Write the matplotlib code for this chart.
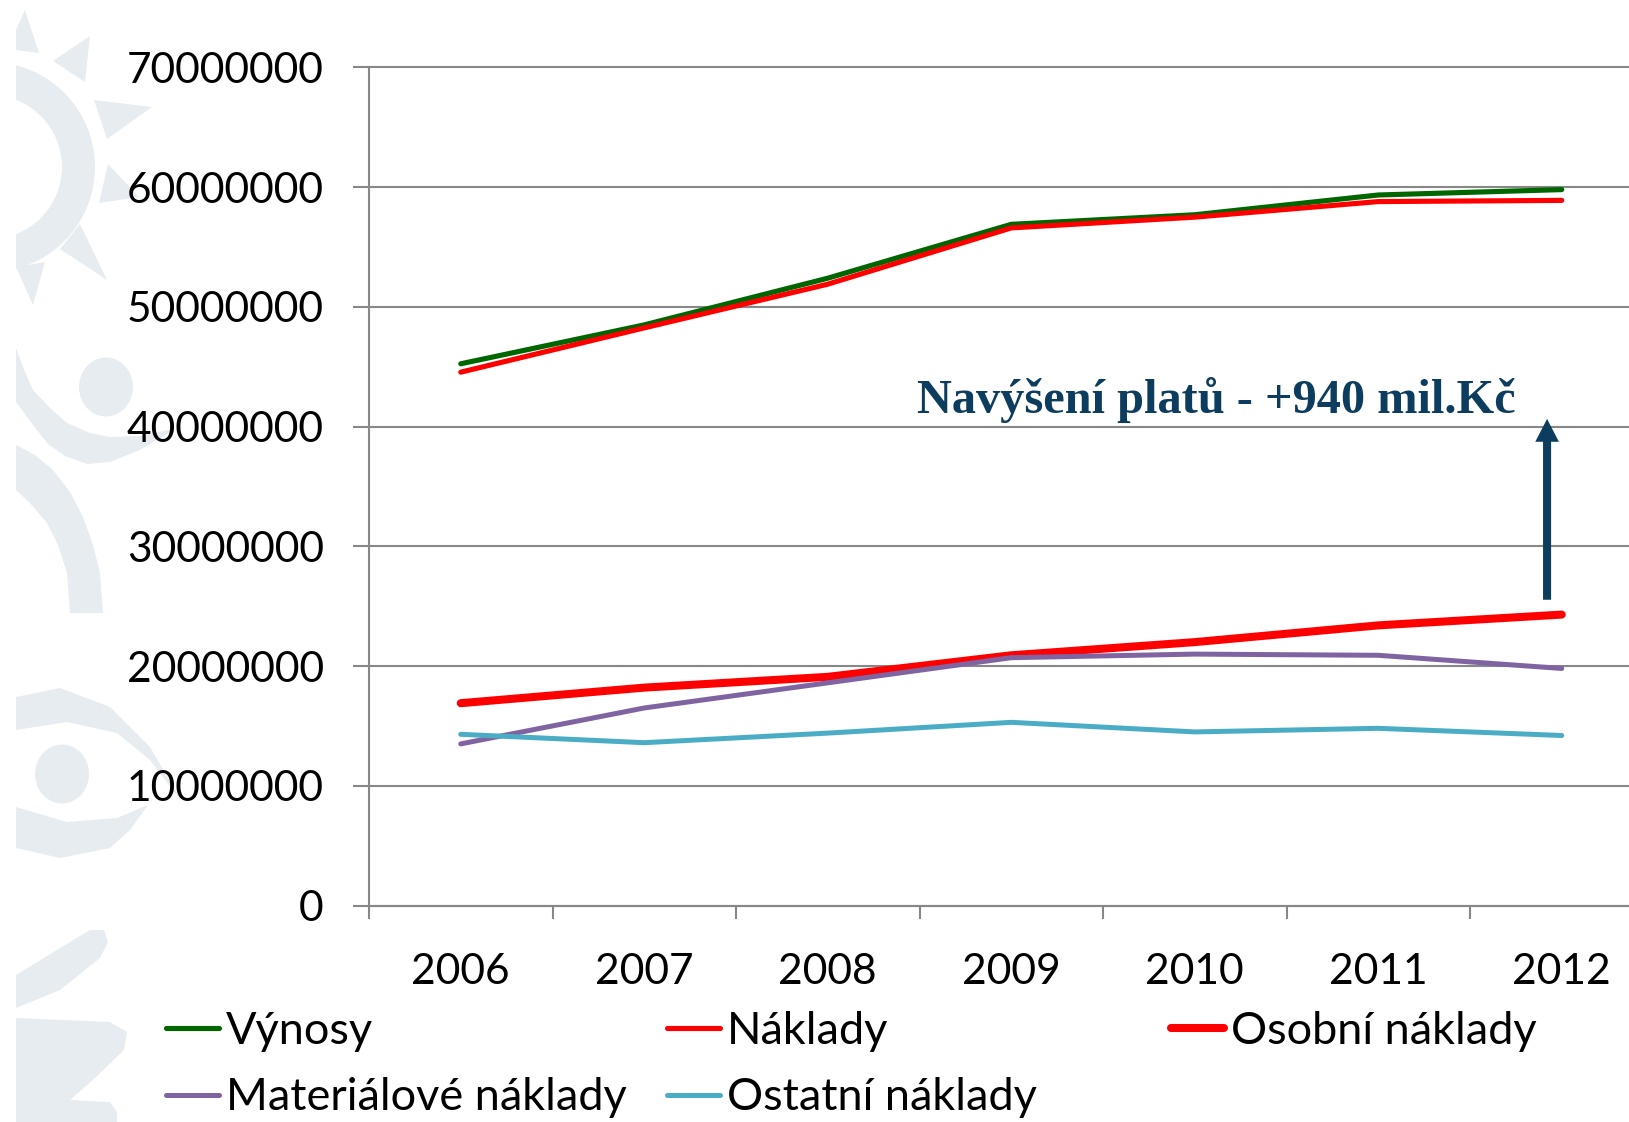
import matplotlib
matplotlib.use("Agg")
import matplotlib.pyplot as plt
from matplotlib.patches import Polygon, Wedge, Ellipse, Rectangle

# ---------------- data ----------------
years = ["2006", "2007", "2008", "2009", "2010", "2011", "2012"]
vynosy = [45250000, 48500000, 52400000, 56900000, 57700000, 59350000, 59800000]
naklady = [44550000, 48250000, 51900000, 56600000, 57500000, 58800000, 58900000]
osobni = [16900000, 18200000, 19100000, 20900000, 22000000, 23400000, 24300000]
material = [13500000, 16500000, 18600000, 20700000, 21000000, 20900000, 19800000]
ostatni = [14300000, 13600000, 14400000, 15300000, 14500000, 14800000, 14200000]
series_names = ["Výnosy", "Náklady", "Osobní náklady", "Materiálové náklady", "Ostatní náklady"]
y_ticks = [0, 10000000, 20000000, 30000000, 40000000, 50000000, 60000000, 70000000]
y_tick_labels = [str(v) for v in y_ticks]
annotation_text = "Navýšení platů - +940 mil.Kč"
arrow_from = 25540000
arrow_to = 40650000
arrow_x = 5.92
text_pos = (4.116, 41180000)

W, H = 1629, 1122
fig = plt.figure(figsize=(W / 100, H / 100), dpi=100)
fig.patch.set_facecolor("white")

# ---------------- background decoration ----------------
bg = fig.add_axes([0, 0, 1, 1], zorder=-10)
bg.set_xlim(0, W)
bg.set_ylim(H, 0)
bg.axis("off")
deco = "#E7ECF0"
clip = Rectangle((16, 0), W, H, transform=bg.transData, visible=False)
bg.add_patch(clip)
shapes = [
    Wedge((-10, 167), 105, -90, 90, width=33),
    Polygon([(25, 10), (39, 53), (16, 50), (16, 30)]),
    Polygon([(90, 36), (53, 61), (85, 82)]),
    Polygon([(152, 107), (94, 100), (107, 139)]),
    Polygon([(108, 164), (99, 203), (139, 197)]),
    Polygon([(80, 224), (60, 249), (107, 280)]),
    Polygon([(16, 267), (45, 262), (33, 305)]),
    Ellipse((106, 387), 54, 59),
    Polygon([(16, 348), (25, 372), (33, 390), (50, 408), (67, 423), (90, 433), (110, 437),
             (140, 436), (177, 428), (140, 450), (110, 462), (87, 464), (65, 456), (48, 444),
             (33, 425), (16, 402)]),
    Polygon([(16, 445), (35, 455), (53, 470), (70, 492), (83, 517), (93, 545), (100, 573),
             (103, 613), (70, 613), (67, 573), (58, 545), (47, 523), (30, 503), (16, 490)]),
    Polygon([(16, 697), (60, 688), (110, 707), (150, 747), (182, 802), (150, 760),
             (117, 733), (67, 722), (16, 730)]),
    Polygon([(16, 807), (67, 822), (117, 818), (148, 805), (130, 830), (110, 848),
             (60, 858), (16, 848)]),
    Ellipse((62, 774), 54, 59),
    Polygon([(16, 975), (70, 942), (90, 930), (104, 930), (108, 942), (100, 958),
             (60, 990), (16, 1008)]),
    Polygon([(16, 1018), (110, 1022), (127, 1032), (124, 1050), (95, 1078), (70, 1100),
             (110, 1102), (117, 1112), (117, 1122), (16, 1122)]),
]
for s in shapes:
    s.set_facecolor(deco)
    s.set_edgecolor("none")
    bg.add_patch(s)
    s.set_clip_path(clip)

# ---------------- main axes ----------------
left_px, right_px, top_px, bottom_px = 369, 1653.5, 67.5, 905.5
ax = fig.add_axes([left_px / W, 1 - bottom_px / H, (right_px - left_px) / W,
                   (bottom_px - top_px) / H])
ax.set_facecolor("none")

x = list(range(len(years)))
styles = [
    (vynosy, "#006600", 3.7),
    (naklady, "#FF0000", 3.7),
    (osobni, "#FF0000", 5.8),
    (material, "#8064A2", 3.6),
    (ostatni, "#4BACC6", 3.6),
]
handles = []
for (vals, col, lw), name in zip(styles, series_names):
    ln, = ax.plot(x, vals, color=col, lw=lw, solid_capstyle="round",
                  solid_joinstyle="round", label=name, zorder=3)
    handles.append(ln)

ax.set_xlim(-0.5, len(years) - 0.5)
ax.set_ylim(0, 70000000)

grid_col = "#878787"
ax.set_yticks(y_ticks)
ax.set_yticklabels(y_tick_labels)
ax.yaxis.grid(True, color=grid_col, lw=1.5, zorder=1)
for gl in ax.yaxis.get_gridlines():
    gl.set_clip_on(False)
ax.set_axisbelow(True)
for sp in ["top", "right"]:
    ax.spines[sp].set_visible(False)
for sp in ["left", "bottom"]:
    ax.spines[sp].set_color(grid_col)
    ax.spines[sp].set_linewidth(1.5)

ax.set_xticks(x)
ax.set_xticklabels(years)
ax.set_xticks([i - 0.5 for i in range(len(years) + 1)], minor=True)
ax.tick_params(axis="x", which="major", length=0, pad=34)
ax.tick_params(axis="x", which="minor", length=9.5, width=1.5, color=grid_col, direction="out")
ax.tick_params(axis="y", length=11.5, width=1.5, color=grid_col, pad=21)
for lab in ax.get_xticklabels() + ax.get_yticklabels():
    lab.set_fontfamily("Lato")
    lab.set_fontsize(30.6)
    lab.set_color("black")

# annotation
navy = "#0D3D5E"
ax.text(text_pos[0], text_pos[1], annotation_text, ha="center", va="baseline",
        fontsize=34.8, fontweight="bold", color=navy,
        family=["Liberation Serif", "DejaVu Serif"], zorder=5)
ax.annotate("", xy=(arrow_x, arrow_to), xytext=(arrow_x, arrow_from),
            arrowprops=dict(arrowstyle="simple,head_length=16.5,head_width=17,tail_width=5.8",
                            mutation_scale=1, fc=navy, ec="none", lw=0,
                            shrinkA=0, shrinkB=0), zorder=5)

# legend: positions of each entry (handle left x, row center y) in pixels
leg_pos = [(166, 1031), (667, 1031), (1171, 1031), (166, 1098), (667, 1098)]
for h, name, (px, py) in zip(handles, series_names, leg_pos):
    fig.legend([h], [name], loc="center left",
               bbox_to_anchor=(px / W, 1 - py / H), frameon=False,
               borderpad=0, borderaxespad=0, handlelength=1.18,
               handletextpad=0.15, prop={"family": "Lato", "size": 32.5})

fig.savefig("out.png", dpi=100, facecolor="white")
